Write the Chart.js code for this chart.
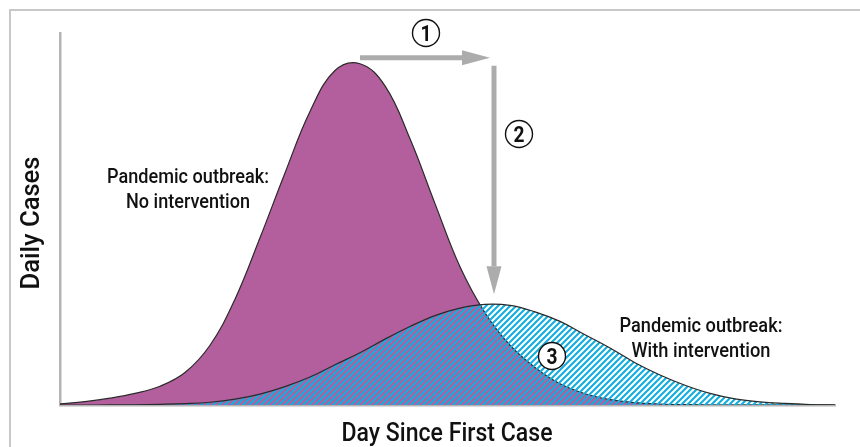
<!DOCTYPE html>
<html>
<head>
<meta charset="utf-8">
<script src="https://cdn.jsdelivr.net/npm/chart.js@4"></script>
<style>
  body { margin: 0; background: #fff; }
  canvas { display: block; }
</style>
</head>
<body>
<canvas id="curve-chart" width="860" height="447"></canvas>
<script>
// days since first case, sampled every 5 days
const days = [0, 5, 10, 15, 20, 25, 30, 35, 40, 45, 50, 55, 60, 65, 70, 75,
              80, 85, 90, 95, 100, 105, 110, 115, 120, 125, 130, 135, 140, 145, 150, 155];
// daily cases (peak of no-intervention curve = 100)
const noIntervention = [0.3, 1, 2, 3.4, 5.5, 9.5, 17.5, 31, 49, 68, 86, 98, 100, 93.5, 78, 59,
                        40.5, 27, 17.5, 11, 6.2, 3.3, 1.6, 0.7, 0.3, 0.1, 0, 0, 0, 0, 0, 0];
const withIntervention = [0, 0, 0.02, 0.08, 0.2, 0.4, 0.8, 1.7, 3.2, 5.4, 8.2, 11.8, 15.3, 19.3, 23, 26.2,
                          28.4, 29.5, 29.2, 27.3, 24.5, 20.6, 16.7, 12.4, 8.8, 5.8, 3.4, 1.8, 0.9, 0.45, 0.15, 0];
const yMax = 109;

const FONT = 'Roboto, "DejaVu Sans Condensed", sans-serif';

function makeHatch(color) {
  const s = 6;
  const c = document.createElement('canvas');
  c.width = s; c.height = s;
  const g = c.getContext('2d');
  g.strokeStyle = color;
  g.lineWidth = 2.1;
  g.beginPath();
  g.moveTo(-1, s + 1); g.lineTo(s + 1, -1);
  g.moveTo(-1, 1); g.lineTo(1, -1);
  g.moveTo(s - 1, s + 1); g.lineTo(s + 1, s - 1);
  g.stroke();
  return g.createPattern(c, 'repeat');
}

// text squeezed to a target width, to look like the condensed face of the original
function narrowText(ctx, text, cx, baseline, size, width, weight) {
  ctx.font = (weight || 500) + ' ' + size + 'px ' + FONT;
  const w = ctx.measureText(text).width;
  ctx.save();
  ctx.translate(cx, baseline);
  ctx.scale(width / w, 1);
  ctx.textAlign = 'center';
  ctx.textBaseline = 'alphabetic';
  ctx.fillText(text, 0, 0);
  ctx.restore();
}

function circled(ctx, cx, cy, label) {
  ctx.beginPath();
  ctx.arc(cx, cy, 13.5, 0, Math.PI * 2);
  ctx.fillStyle = '#fff';
  ctx.fill();
  ctx.lineWidth = 1.4;
  ctx.strokeStyle = '#111';
  ctx.stroke();
  ctx.fillStyle = '#111';
  narrowText(ctx, label, cx, cy + 8, 22, 11, 700);
}

function arrow(ctx, x0, y0, x1, y1) {
  const ang = Math.atan2(y1 - y0, x1 - x0);
  const headLen = 28, headHalf = 7.5;
  const bx = x1 - Math.cos(ang) * headLen, by = y1 - Math.sin(ang) * headLen;
  ctx.strokeStyle = '#acacac';
  ctx.fillStyle = '#acacac';
  ctx.lineWidth = 5;
  ctx.beginPath();
  ctx.moveTo(x0, y0);
  ctx.lineTo(bx, by);
  ctx.stroke();
  ctx.beginPath();
  ctx.moveTo(x1, y1);
  ctx.lineTo(bx - Math.sin(ang) * headHalf, by + Math.cos(ang) * headHalf);
  ctx.lineTo(bx + Math.sin(ang) * headHalf, by - Math.cos(ang) * headHalf);
  ctx.closePath();
  ctx.fill();
}

const annotate = {
  id: 'annotate',
  beforeDraw(chart) {
    const ctx = chart.ctx;
    ctx.save();
    ctx.strokeStyle = '#c8c8c8';
    ctx.lineWidth = 2;
    ctx.beginPath();
    ctx.moveTo(10, 447);
    ctx.lineTo(10, 10);
    ctx.lineTo(860, 10);
    ctx.stroke();
    ctx.restore();
  },
  afterDraw(chart) {
    const { ctx, scales: { x, y } } = chart;
    const iA = noIntervention.indexOf(Math.max(...noIntervention));
    const iB = withIntervention.indexOf(Math.max(...withIntervention));
    const peakAy = y.getPixelForValue(noIntervention[iA]);
    const peakBx = x.getPixelForValue(days[iB]);
    const peakBy = y.getPixelForValue(withIntervention[iB]);
    ctx.save();
    arrow(ctx, x.getPixelForValue(days[iA]), peakAy - 6, peakBx + 5, peakAy - 6);
    arrow(ctx, peakBx + 9, peakAy + 2, peakBx + 9, peakBy - 10);
    circled(ctx, 426, 33, '1');
    circled(ctx, 519, 134, '2');
    circled(ctx, 552, 356, '3');

    ctx.fillStyle = '#111';
    narrowText(ctx, 'Pandemic outbreak:', 188, 183, 20, 162);
    narrowText(ctx, 'No intervention', 188, 208, 20, 124);
    narrowText(ctx, 'Pandemic outbreak:', 701, 332, 20, 163);
    narrowText(ctx, 'With intervention', 701, 357, 20, 139);

    narrowText(ctx, 'Day Since First Case', 447, 441, 25, 211);
    ctx.translate(39, 223);
    ctx.rotate(-Math.PI / 2);
    narrowText(ctx, 'Daily Cases', 0, 0, 25, 133);
    ctx.restore();
  }
};

const ctx = document.getElementById('curve-chart').getContext('2d');
const chart = new Chart(ctx, {
  type: 'line',
  data: {
    datasets: [{
      label: 'With intervention',
      data: days.map((d, i) => ({ x: d, y: withIntervention[i] })),
      borderColor: '#2a2a2a',
      borderWidth: 1.2,
      backgroundColor: makeHatch('#12aee0'),
      fill: 'origin',
      pointRadius: 0,
      tension: 0.4
    }, {
      label: 'No intervention',
      data: days.map((d, i) => ({ x: d, y: noIntervention[i] })),
      borderColor: '#2a2a2a',
      borderWidth: 1.2,
      backgroundColor: '#b35f9d',
      fill: 'origin',
      pointRadius: 0,
      tension: 0.4
    }]
  },
  options: {
    responsive: false,
    animation: false,
    layout: { padding: { left: 52, right: 25, top: 33, bottom: 34 } },
    plugins: { legend: { display: false }, tooltip: { enabled: false } },
    scales: {
      x: {
        type: 'linear',
        min: days[0],
        max: days[days.length - 1],
        grid: { display: false },
        ticks: { display: false },
        border: { display: true, color: '#b4b4b4', width: 2.5 }
      },
      y: {
        min: 0,
        max: yMax,
        grid: { display: false },
        ticks: { display: false },
        border: { display: true, color: '#b4b4b4', width: 2.5 }
      }
    }
  },
  plugins: [annotate]
});
</script>
</body>
</html>
